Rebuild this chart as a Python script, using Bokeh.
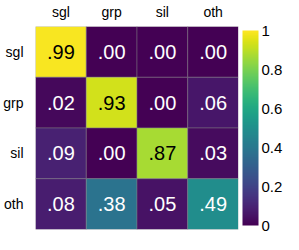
from bokeh.plotting import figure
from bokeh.models import ColumnDataSource, LinearColorMapper, ColorBar, FixedTicker
from bokeh.palettes import Viridis256
from bokeh.transform import transform
from bokeh.embed import file_html
from bokeh.resources import INLINE
from bokeh.core.properties import value

categories = ["sgl", "grp", "sil", "oth"]
row_sgl = [0.99, 0.00, 0.00, 0.00]
row_grp = [0.02, 0.93, 0.00, 0.06]
row_sil = [0.09, 0.00, 0.87, 0.03]
row_oth = [0.08, 0.38, 0.05, 0.49]
rows = [row_sgl, row_grp, row_sil, row_oth]
colorbar_ticks = [0, 0.2, 0.4, 0.6, 0.8, 1]
colorbar_tick_labels = ["0", "0.2", "0.4", "0.6", "0.8", "1"]

FONT = "Liberation Sans"

xs, ys, vs, txt, tcol = [], [], [], [], []
for rlab, row in zip(categories, rows):
    for clab, v in zip(categories, row):
        xs.append(clab)
        ys.append(rlab)
        vs.append(v)
        txt.append(f"{v:.2f}".lstrip("0"))
        tcol.append("black" if v > 0.5 else "white")

src = ColumnDataSource(dict(x=xs, y=ys, v=vs, t=txt, tc=tcol))
mapper = LinearColorMapper(palette=Viridis256, low=0, high=1)

p = figure(width=289, height=234, x_range=categories, y_range=list(reversed(categories)),
           x_axis_location="above", output_backend="svg", toolbar_location=None,
           min_border_left=0, min_border_right=0, min_border_top=0, min_border_bottom=5)
p.rect(x="x", y="y", width=1, height=1, source=src, fill_color=transform("v", mapper),
       line_color="gray", line_alpha=0.45, line_width=1)
p.text(x="x", y="y", text="t", text_color="tc", source=src, text_align="center",
       text_baseline="middle", text_font_size="20px", text_font=value(FONT))

p.grid.visible = False
p.outline_line_color = None
for ax in (p.xaxis[0], p.yaxis[0]):
    ax.axis_line_color = None
    ax.major_tick_line_color = None
    ax.minor_tick_line_color = None
    ax.major_label_text_font = FONT
    ax.major_label_text_font_size = "14px"
    ax.major_label_text_color = "black"
    ax.major_label_standoff = 1
p.yaxis[0].major_label_standoff = 6

cb = ColorBar(color_mapper=mapper, ticker=FixedTicker(ticks=colorbar_ticks),
              major_label_overrides=dict(zip(colorbar_ticks, colorbar_tick_labels)),
              width=16, padding=4, margin=5, major_tick_line_color=None,
              bar_line_color=None, border_line_color=None,
              major_label_text_font=FONT, major_label_text_font_size="15px",
              major_label_text_color="black", label_standoff=3)
p.add_layout(cb, "right")

open("out.html", "w").write(file_html(p, INLINE))
